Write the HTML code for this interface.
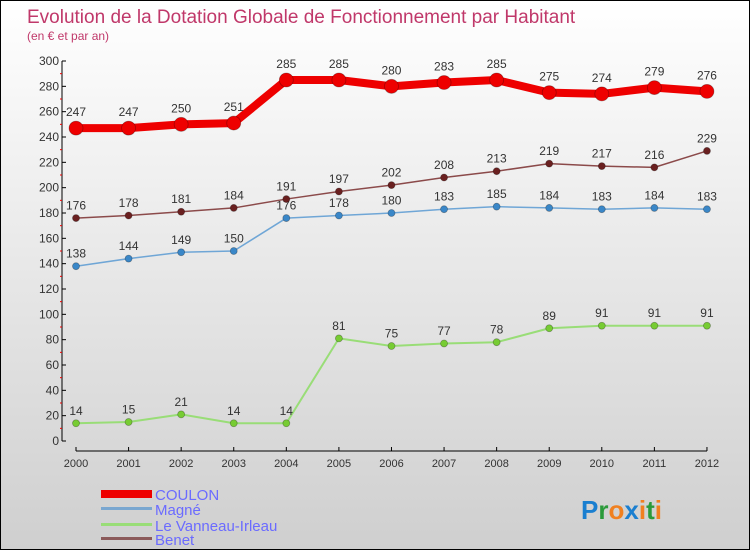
<!DOCTYPE html>
<html><head><meta charset="utf-8"><style>
body{margin:0}
#c{width:748px;height:548px;border:1px solid #000;background:linear-gradient(#fff,#cfcfcf);position:relative;font-family:"Liberation Sans",sans-serif;overflow:hidden}
</style></head><body>
<div id="c">
<svg id="s" width="748" height="548" xmlns="http://www.w3.org/2000/svg">
<text x="26" y="22" font-size="19" fill="#c0386a">Evolution de la Dotation Globale de Fonctionnement par Habitant</text>
<text x="26" y="39" font-size="12" fill="#c0386a">(en € et par an)</text>
<g id="axes"></g><g id="series"></g>
<g>
<rect x="100" y="489" width="51" height="8" fill="#e00"/>
<text x="154" y="499" font-size="15" fill="#6b6bff">COULON</text>
<rect x="100" y="506" width="51" height="3" fill="#7aa7d0"/>
<text x="154" y="514" font-size="15" fill="#6b6bff">Magné</text>
<rect x="100" y="522" width="51" height="3" fill="#99dd77"/>
<text x="154" y="530" font-size="15" fill="#6b6bff">Le Vanneau-Irleau</text>
<rect x="100" y="536" width="51" height="3" fill="#8b5a5a"/>
<text x="154" y="544" font-size="15" fill="#6b6bff">Benet</text>
</g>
<text x="580" y="518" font-size="26" font-weight="bold"><tspan fill="#1a7fd0">P</tspan><tspan fill="#2a9a3a">r</tspan><tspan fill="#f08020">o</tspan><tspan fill="#1a7fd0">x</tspan><tspan fill="#f08020">i</tspan><tspan fill="#2a9a3a">t</tspan><tspan fill="#f08020">i</tspan></text>
</svg></div>
<script>
const years=[2000,2001,2002,2003,2004,2005,2006,2007,2008,2009,2010,2011,2012];
const coulon=[247,247,250,251,285,285,280,283,285,275,274,279,276];
const magne=[138,144,149,150,176,178,180,183,185,184,183,184,183];
const vanneau=[14,15,21,14,14,81,75,77,78,89,91,91,91];
const benet=[176,178,181,184,191,197,202,208,213,219,217,216,229];
const yTicks=[0,20,40,60,80,100,120,140,160,180,200,220,240,260,280,300];
const NS="http://www.w3.org/2000/svg";
const X=i=>75+i*52.58, Y=v=>440-v*380/300;
function mk(t,a,p){const e=document.createElementNS(NS,t);for(const k in a)e.setAttribute(k,a[k]);p.appendChild(e);return e;}
const ax=document.getElementById('axes'), sg=document.getElementById('series');
let l=mk('line',{x1:61,y1:Y(300),x2:61,y2:440,stroke:'#000'},ax);


l=mk('line',{x1:75,y1:450,x2:706,y2:450,stroke:'#000'},ax);


yTicks.forEach(v=>{
 mk('line',{x1:61,y1:Y(v),x2:65,y2:Y(v),stroke:'#000'},ax);
 if(v<300)mk('line',{x1:59,y1:Y(v+10),x2:61,y2:Y(v+10),stroke:'#e00'},ax);
 const t=mk('text',{x:58,y:Y(v)+4,'font-size':12,'text-anchor':'end',fill:'#333'},ax);
 t.textContent=v;
 
 
});
years.forEach((y,i)=>{
 mk('line',{x1:X(i),y1:446,x2:X(i),y2:450,stroke:'#000'},ax);
 const t=mk('text',{x:X(i),y:466,'font-size':11,'text-anchor':'middle',fill:'#333'},ax);
 t.textContent=y;
 
 
});
function series(d,col,w,r,fill,name){
 const p=mk('polyline',{points:d.map((v,i)=>X(i)+','+Y(v)).join(' '),fill:'none',stroke:col,'stroke-width':w,'stroke-linejoin':'round'},sg);
 
 
 d.forEach((v,i)=>{
  const c=mk('circle',{cx:X(i),cy:Y(v),r:r,fill:fill,stroke:'rgba(0,0,0,0.3)','stroke-width':0.8},sg);
  
  
  const t=mk('text',{x:X(i),y:Y(v)-(r+5),'font-size':12,'text-anchor':'middle',fill:'#333'},sg);
  t.textContent=v;
  
  
 });
}
series(vanneau,'#99dd77',2,3.5,'#77cc33','vanneau');
series(magne,'#6fa6d6',1.5,3.5,'#3a87c8','magne');
series(benet,'#8b4a4a',1.5,3.5,'#6a2020','benet');
series(coulon,'#e00',8,7,'#e00','coulon');
</script>
</body></html>
